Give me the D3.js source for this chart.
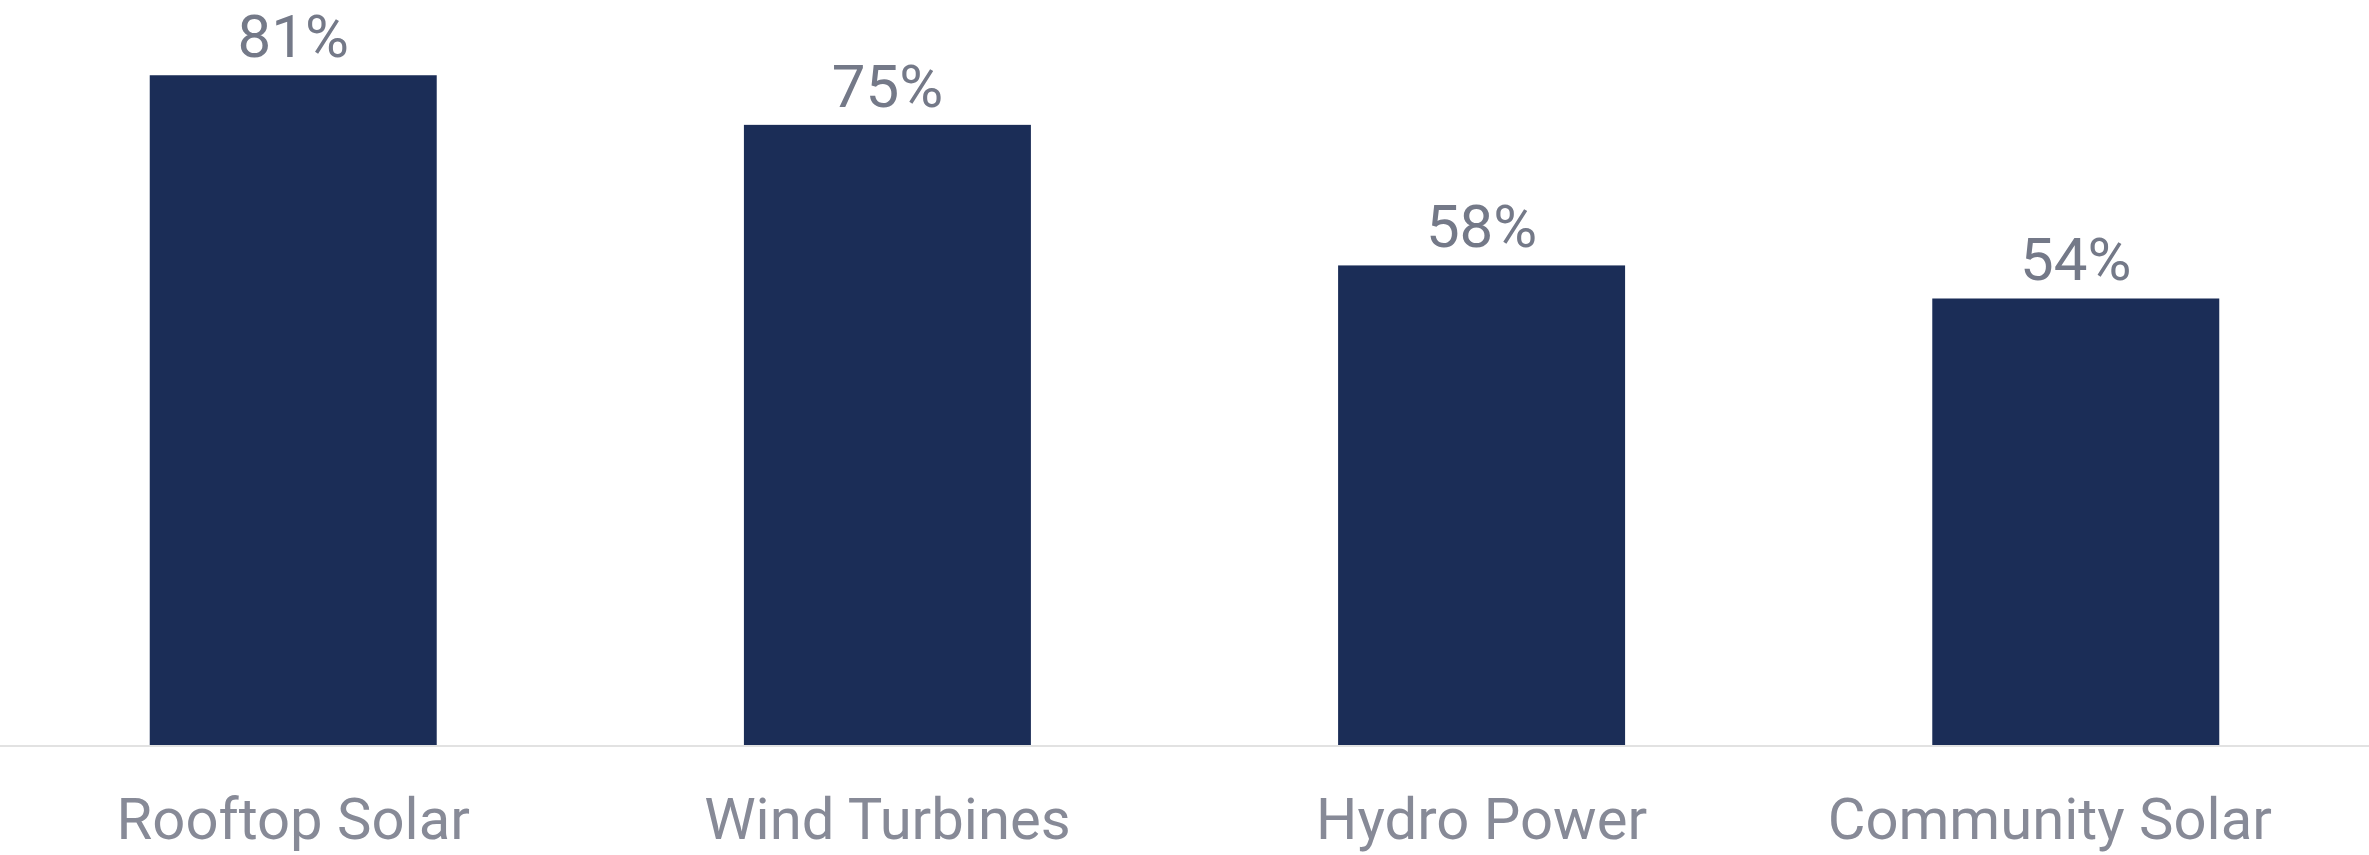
<!DOCTYPE html>
<html>
<head>
<meta charset="utf-8">
<script src="https://cdn.jsdelivr.net/npm/d3@7"></script>
<style>
  html, body { margin: 0; padding: 0; background: #ffffff; }
  svg { display: block; }
  .value-label { font-family: Roboto, "Noto Sans", sans-serif; fill: #747988; }
  .cat-label { font-family: Roboto, "Noto Sans", sans-serif; fill: #878a97; }
</style>
</head>
<body>
<svg id="chart"></svg>
<script>
/* data */
const categories = ["Rooftop Solar", "Wind Turbines", "Hydro Power", "Community Solar"];
const values = [0.81, 0.75, 0.58, 0.54];

const W = 2369;
const H = 855;
const BASE_Y = 745;

const svg = d3.select("#chart")
  .attr("width", W)
  .attr("height", H);

const x = d3.scaleBand()
  .domain(categories)
  .range([0, W])
  .paddingInner(0.517)
  .paddingOuter(0.252);

const y = d3.scaleLinear()
  .domain([0, 0.901])
  .range([BASE_Y, 0]);

const rows = categories.map((c, i) => ({ cat: c, val: values[i] }));

/* bars */
svg.append("g")
  .selectAll("rect")
  .data(rows)
  .join("rect")
  .attr("x", d => x(d.cat))
  .attr("y", d => y(d.val))
  .attr("width", x.bandwidth())
  .attr("height", d => BASE_Y - y(d.val))
  .attr("fill", "#1b2d57");

/* baseline */
svg.append("line")
  .attr("x1", 0).attr("x2", W)
  .attr("y1", BASE_Y + 1).attr("y2", BASE_Y + 1)
  .attr("stroke", "#e2e2e2")
  .attr("stroke-width", 2);

/* value labels */
svg.append("g")
  .selectAll("text")
  .data(rows)
  .join("text")
  .attr("class", "value-label")
  .attr("x", d => x(d.cat) + x.bandwidth() / 2)
  .attr("y", d => y(d.val) - 18)
  .attr("text-anchor", "middle")
  .style("font-size", "60px")
  .text(d => d3.format(".0%")(d.val));

/* category axis */
const axis = svg.append("g")
  .attr("transform", `translate(0, ${BASE_Y})`)
  .call(d3.axisBottom(x).tickSize(0).tickPadding(0));
axis.select(".domain").remove();
axis.selectAll("text")
  .attr("class", "cat-label")
  .attr("dy", null)
  .attr("y", 94)
  .attr("fill", null)
  .style("font-size", "58px");
/* last label sits a little left of its bar, as in the reference */
axis.selectAll("text")
  .filter(d => d === categories[categories.length - 1])
  .attr("dx", -26);
axis.attr("font-family", null).attr("font-size", null);
</script>
</body>
</html>
